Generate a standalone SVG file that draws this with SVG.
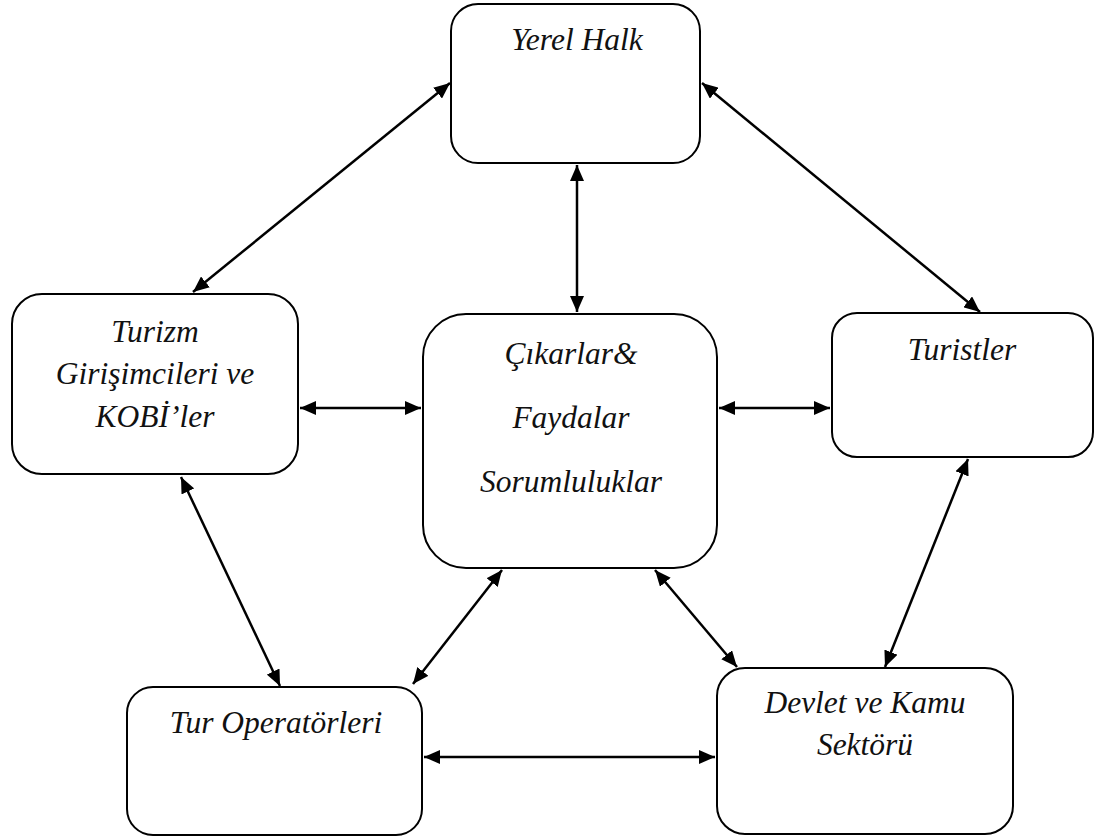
<svg xmlns="http://www.w3.org/2000/svg" width="1096" height="839" viewBox="0 0 1096 839">
  <style>
    .box { fill: #ffffff; stroke: #000000; stroke-width: 2; }
    .lbl { font-family: "Liberation Serif", "Times New Roman", serif; font-style: italic; font-size: 31.5px; fill: #111111; text-anchor: middle; }
    .link { stroke: #000000; stroke-width: 2.5; fill: none; marker-start: url(#head); marker-end: url(#head); }
  </style>
  <defs>
    <marker id="head" markerUnits="userSpaceOnUse" markerWidth="16" markerHeight="14" viewBox="0 0 16 14" refX="16" refY="7" orient="auto-start-reverse">
      <path d="M0,0 L16,7 L0,14 Z" fill="#000000"/>
    </marker>
  </defs>
  <rect width="1096" height="839" fill="#ffffff"/>

  <!-- two-way links between the stakeholders -->
  <g id="connectors">
    <line class="link" x1="450" y1="83" x2="193" y2="292"/>
    <line class="link" x1="702" y1="83" x2="980" y2="312"/>
    <line class="link" x1="577" y1="165" x2="577" y2="312"/>
    <line class="link" x1="300" y1="408" x2="421" y2="408"/>
    <line class="link" x1="719" y1="408" x2="830" y2="408"/>
    <line class="link" x1="181" y1="477" x2="280" y2="686"/>
    <line class="link" x1="502" y1="570" x2="413" y2="684"/>
    <line class="link" x1="655" y1="570" x2="737" y2="667"/>
    <line class="link" x1="968" y1="459" x2="885" y2="667"/>
    <line class="link" x1="424" y1="757" x2="715" y2="757"/>
  </g>

  <g id="yerel-halk">
    <rect class="box" x="451" y="4" width="249" height="159" rx="27" ry="27"/>
    <text class="lbl" x="577" y="50">Yerel Halk</text>
  </g>

  <g id="turizm-girisimcileri">
    <rect class="box" x="12" y="294" width="286" height="180" rx="30" ry="30"/>
    <text class="lbl" x="155" y="342">Turizm</text>
    <text class="lbl" x="155" y="384">Girişimcileri ve</text>
    <text class="lbl" x="155" y="427">KOBİ’ler</text>
  </g>

  <g id="cikarlar">
    <rect class="box" x="423" y="314" width="294" height="254" rx="43" ry="43"/>
    <text class="lbl" x="571" y="364">Çıkarlar&amp;</text>
    <text class="lbl" x="571" y="428">Faydalar</text>
    <text class="lbl" x="571" y="492">Sorumluluklar</text>
  </g>

  <g id="turistler">
    <rect class="box" x="832" y="313" width="261" height="144" rx="25" ry="25"/>
    <text class="lbl" x="962" y="360">Turistler</text>
  </g>

  <g id="tur-operatorleri">
    <rect class="box" x="127" y="687" width="295" height="148" rx="26" ry="26"/>
    <text class="lbl" x="276" y="733">Tur Operatörleri</text>
  </g>

  <g id="devlet-kamu">
    <rect class="box" x="717" y="668" width="296" height="166" rx="28" ry="28"/>
    <text class="lbl" x="865" y="713">Devlet ve Kamu</text>
    <text class="lbl" x="865" y="755">Sektörü</text>
  </g>
</svg>
